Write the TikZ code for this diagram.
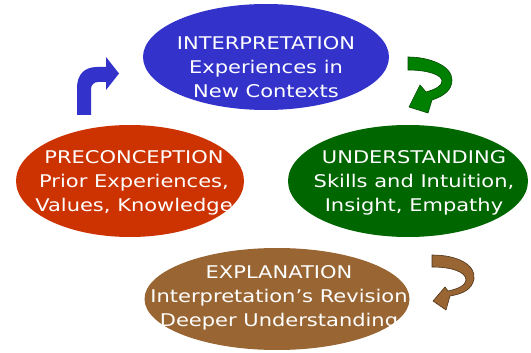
\documentclass[tikz,border=0pt]{standalone}
\usepackage{fontspec}
\setmainfont[FakeStretch=1.2]{DejaVu Sans}
\usetikzlibrary{shapes.geometric}
\definecolor{interpblue}{RGB}{51,51,204}
\definecolor{preconred}{RGB}{204,51,0}
\definecolor{undergreen}{RGB}{0,102,0}
\definecolor{arrowgreen}{RGB}{0,128,0}
\definecolor{explbrown}{RGB}{153,102,51}
\begin{document}
\begin{tikzpicture}[x=1pt,y=-1pt]
        \useasboundingbox (0,0) rectangle (531,353);
        \scoped{
                \tikzstyle{every node}=[ellipse, inner sep=0pt];
                \node (interp) [fill=interpblue, minimum width=246pt, minimum height=106pt] at (266,57) {};
                \node (precon) [fill=preconred, minimum width=228pt, minimum height=112pt] at (130,181) {};
                \node (under) [fill=undergreen, minimum width=240pt, minimum height=112pt] at (408,181) {};
                \node (expl) [fill=explbrown, minimum width=265pt, minimum height=102pt] at (277,299) {};
            };
        \scoped{
                \tikzstyle{every node}=[text=white, align=center, inner sep=0pt, font=\fontsize{17.5}{24}\selectfont];
                \node (interptext) at (266,67) {INTERPRETATION\\Experiences in\\New Contexts};
                \node (precontext) at (134,183) {PRECONCEPTION\\Prior Experiences,\\Values, Knowledge};
                \node (undertext) at (414,183) {UNDERSTANDING\\Skills and Intuition,\\Insight, Empathy};
                \node (expltext) at (279,298) {EXPLANATION\\Interpretation's Revision\\Deeper Understanding};
            };
        % curled arrows between the stages
        \fill[interpblue] (77,115) -- (77,88) .. controls (77,75) and (84,67) .. (97,67) -- (106,67) -- (106,57) -- (119,73.5) -- (106,90) -- (106,82) -- (98,82) .. controls (94,82) and (91,85) .. (91,89) -- (91,115) -- cycle;
        \filldraw[fill=arrowgreen, draw=arrowgreen!55!black, line width=0.6pt] (408,57) .. controls (430,57) and (452,66) .. (452,80) .. controls (452,90) and (444,96) .. (432,100) -- (428,113) -- (409,107) -- (420,85) -- (426,92) .. controls (436,89) and (442,86) .. (442,81) .. controls (442,75) and (428,70) .. (408,70) -- cycle;
        \filldraw[fill=explbrown, draw=explbrown!50!black, line width=0.6pt] (432,255) .. controls (458,255) and (476,265) .. (474,279) .. controls (472,290) and (462,294) .. (450,296) -- (446,310) -- (433,301) -- (445,287) -- (448,291) .. controls (458,289) and (466,285) .. (466,280) .. controls (466,272) and (452,267) .. (432,267) -- cycle;
    \end{tikzpicture}
\end{document}
